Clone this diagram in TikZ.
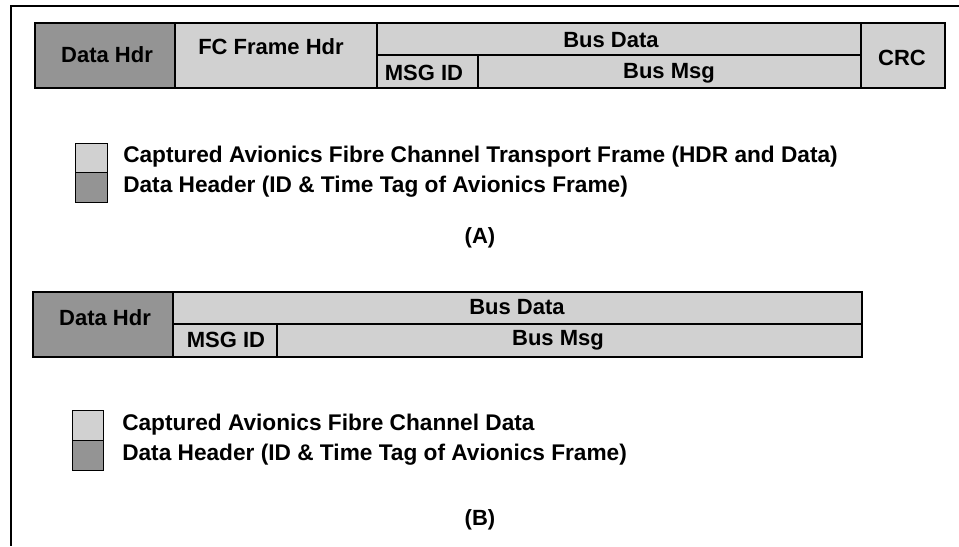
\documentclass[tikz,border=0pt]{standalone}
\usepackage{fontspec}
\setmainfont{Liberation Sans}
\begin{document}
\begin{tikzpicture}[x=0.75pt,y=-0.75pt,
  lite/.style={fill=black!18},
  dark/.style={fill=black!42},
  thin/.style={draw=black,line width=0.9pt},
  thick/.style={draw=black,line width=1.6pt},
  lbl/.style={font=\bfseries\fontsize{16.5}{18}\selectfont,inner sep=0pt},
  leg/.style={font=\bfseries\fontsize{17}{19}\selectfont,inner sep=0pt,anchor=west},
  sq/.style={draw=black,line width=0.5pt}]
\useasboundingbox (0,0) rectangle (959,546);
% outer frame
\coordinate (tl) at (11,6);
\coordinate (tr) at (959,6);
\coordinate (bl) at (11,546);
\draw[line width=1.5pt] (tr) -- (tl) -- (bl);

% ---------- Frame A ----------
\path[dark,thin] (35,23) rectangle (175,88);
\path[lite] (175,23) rectangle (945,88);
\draw[thin] (377,23) -- (377,88);
\draw[thin] (377,55) -- (861,55);
\draw[thin] (478,55) -- (478,88);
\draw[thin] (861,23) -- (861,88);
\draw[thick] (175,23) rectangle (945,88);
\node[lbl] (adh) at (107,55) {Data Hdr};
\node[lbl] (afc) at (271,47) {FC Frame Hdr};
\node[lbl] (abd) at (611,40) {Bus Data};
\node[lbl] (amid) at (424,73) {MSG ID};
\node[lbl] (abm) at (669,73) {Bus Msg};
\node[lbl] (acrc) at (902,58) {CRC};

% legend A
\path[lite,sq] (75,143) rectangle (107,172);
\path[dark,sq] (75,172) rectangle (107,202);
\node[leg] (la1) at (123,157) {Captured Avionics Fibre Channel Transport Frame (HDR and Data)};
\node[leg] (la2) at (123,187) {Data Header (ID \& Time Tag of Avionics Frame)};
\node[lbl] (capA) at (480,238) {(A)};

% ---------- Frame B ----------
\path[dark,thin] (33,292) rectangle (173,357);
\path[lite] (173,292) rectangle (862,357);
\draw[thin] (173,324) -- (862,324);
\draw[thin] (277,324) -- (277,357);
\draw[thick] (173,292) rectangle (862,357);
\node[lbl] (bdh) at (105,318) {Data Hdr};
\node[lbl] (bbd) at (517,307) {Bus Data};
\node[lbl] (bmid) at (226,340) {MSG ID};
\node[lbl] (bbm) at (558,340) {Bus Msg};

% legend B
\path[lite,sq] (72,410) rectangle (103,440);
\path[dark,sq] (72,440) rectangle (103,470);
\node[leg] (lb1) at (122,425) {Captured Avionics Fibre Channel Data};
\node[leg] (lb2) at (122,455) {Data Header (ID \& Time Tag of Avionics Frame)};
\node[lbl] (capB) at (480,520) {(B)};
\end{tikzpicture}
\end{document}
